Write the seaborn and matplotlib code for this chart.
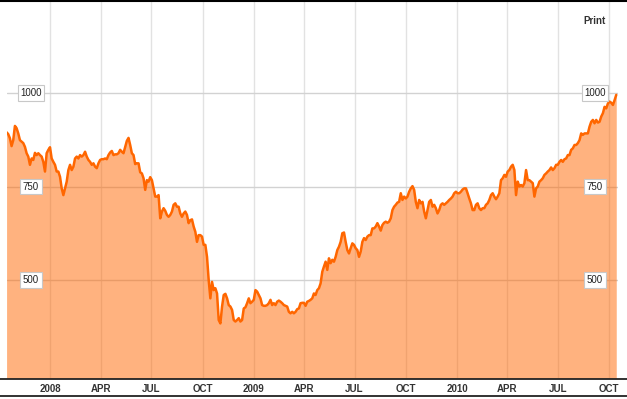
import matplotlib
matplotlib.use("Agg")
import matplotlib.pyplot as plt
import matplotlib.transforms as mtransforms
from matplotlib.lines import Line2D
import seaborn as sns
import pandas as pd

# ---- data (index level, sampled every 3 days) ----
start_date = "2007-10-15"
values = [
    895, 890, 879, 858, 874, 912, 906, 892, 874, 870, 866, 856, 839, 830, 808, 825,
    821, 840, 834, 839, 834, 830, 816, 790, 839, 848, 855, 825, 816, 808, 790, 790,
    776, 745, 727, 745, 763, 794, 808, 794, 803, 825, 830, 825, 834, 830, 834, 843,
    830, 821, 816, 808, 812, 803, 799, 812,
    821, 823, 823, 825, 823, 834, 841, 845, 834, 836, 836, 839, 848, 843, 839, 856,
    872, 880, 861, 839, 834, 810, 812, 812, 788, 785, 772, 741, 767, 763, 775, 767,
    745, 723, 723, 727, 665, 683, 692, 685, 674, 669, 674, 683, 701, 705, 696, 696,
    678, 669, 678, 683, 674, 652, 660, 662, 643, 629, 602, 620,
    620, 616, 594, 594, 562, 500, 451, 495, 473, 478, 464, 393, 384, 429, 460, 463,
    451, 433, 429, 420, 393, 389, 393, 398, 389, 393, 424, 427, 438, 451, 438, 442,
    447, 473, 469, 460, 451, 433, 431, 431, 433, 438, 447, 433, 438, 433, 442, 445,
    442, 438, 433, 431, 429, 415, 411, 415, 411, 415, 422, 424,
    438, 439, 439, 431, 442, 444, 447, 451, 464, 460, 473, 478, 491, 522, 536, 549,
    527, 558, 545, 554, 549, 562, 580, 589, 602, 625, 627, 602, 580, 571, 585, 598,
    594, 585, 580, 562, 576, 602, 612, 607, 616, 620, 620, 638, 638, 643, 652, 643,
    632, 647, 653, 656, 653, 656, 665, 687, 696, 701, 707, 709,
    732, 714, 723, 718, 723, 736, 745, 751, 741, 709, 692, 714, 705, 709, 683, 665,
    687, 709, 714, 696, 701, 692, 678, 687, 701, 705, 701, 705, 709, 714, 718, 723,
    732, 736, 732, 732, 736, 742, 745, 745, 732, 718, 705, 687, 687, 701, 705, 692,
    687, 692, 692, 701, 705, 714, 727, 732, 723, 716, 723, 732,
    767, 772, 781, 776, 790, 794, 803, 808, 794, 727, 763, 750, 754, 750, 759, 794,
    767, 767, 763, 759, 723, 745, 750, 763, 767, 772, 781, 785, 790, 794, 801, 794,
    799, 808, 808, 816, 821, 816, 823, 825, 834, 834, 848, 852, 861, 861, 866, 874,
    892, 888, 892, 892, 892, 910, 923, 928, 919, 928, 921, 923, 937, 946, 963, 959,
    972, 977, 974, 968, 981, 995,
]
tick_dates = ["2008-01-01", "2008-04-01", "2008-07-01", "2008-10-01",
              "2009-01-01", "2009-04-01", "2009-07-01", "2009-10-01",
              "2010-01-01", "2010-04-01", "2010-07-01", "2010-10-01"]
tick_labels = ["2008", "APR", "JUL", "OCT", "2009", "APR", "JUL", "OCT",
               "2010", "APR", "JUL", "OCT"]
y_levels = [500, 750, 1000]

dates = pd.date_range(start_date, periods=len(values), freq="3D")
df = pd.DataFrame({"date": dates, "value": values})

sns.set_style("white")
plt.rcParams["font.family"] = ["Liberation Sans", "DejaVu Sans"]

W, H = 627, 399
fig = plt.figure(figsize=(W / 100, H / 100), dpi=100)
ax = fig.add_axes([7 / W, 21 / H, 611 / W, 377 / H])

base = pd.Timestamp("2008-01-01")
px_per_day = 0.5568
ax.set_xlim(base + pd.Timedelta(days=(7 - 50) / px_per_day),
            base + pd.Timedelta(days=(618 - 50) / px_per_day))
ax.set_ylim(238, 1246)

ax.set_axisbelow(True)
ax.set_xticks(pd.to_datetime(tick_dates))
ax.set_xticklabels(tick_labels, fontsize=7, fontweight="bold", color="#333333")
ax.set_yticks(y_levels)
ax.set_yticklabels([])
ax.tick_params(axis="both", length=0)
ax.tick_params(axis="x", pad=4)
ax.grid(axis="x", color="#e2e2e2", lw=1.0)
ax.grid(axis="y", color="#d2d2d2", lw=1.0)
for s in ax.spines.values():
    s.set_visible(False)

ax.fill_between(df["date"], df["value"], 0, color="#ff6600", alpha=0.5, lw=0, zorder=2)
sns.lineplot(data=df, x="date", y="value", color="#ff6600", lw=1.8, ax=ax, zorder=3)
ax.set_xlabel("")
ax.set_ylabel("")

trans = mtransforms.blended_transform_factory(ax.transAxes, ax.transData)
for v in y_levels:
    for xf in ((31 - 7) / 611, (595 - 7) / 611):
        ax.text(xf, v, str(v), transform=trans, ha="center", va="center",
                fontsize=7, color="#222222", zorder=5,
                bbox=dict(boxstyle="square,pad=0.28", fc="white", ec="#c8c8c8", lw=0.8))

fig.text(594 / W, 1 - 21 / H, "Print", ha="center", va="center",
         fontsize=7, fontweight="bold", color="#333333")

fig.add_artist(Line2D([0, 1], [1 - 0.8 / H, 1 - 0.8 / H], color="black", lw=1.5))
fig.add_artist(Line2D([0, 1], [1 - 378.5 / H, 1 - 378.5 / H], color="#222222", lw=1.3))
fig.add_artist(Line2D([0, 1], [1 - 396 / H, 1 - 396 / H], color="#222222", lw=1.3))

fig.savefig("out.png", dpi=100)
